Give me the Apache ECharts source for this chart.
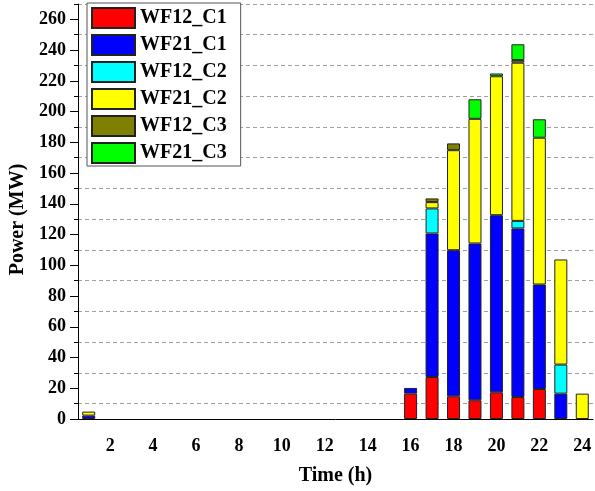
<!DOCTYPE html>
<html>
<head>
<meta charset="utf-8">
<script src="https://cdn.jsdelivr.net/npm/echarts@6/dist/echarts.min.js"></script>
<style>
  html, body { margin: 0; padding: 0; background: #fff; }
  #chart { width: 595px; height: 491px; }
</style>
</head>
<body>
<div id="chart"></div>
<script>
// Hourly dispatched power per wind-farm / contract (MW), hours 1..24
const hours = ['1','2','3','4','5','6','7','8','9','10','11','12','13','14','15','16','17','18','19','20','21','22','23','24'];

const wf12_c1 = [null,null,null,null,null,null,null,null,null,null,null,null,null,null,null,16.5,27.3,14.8,12.2,17.4,14.3,19.5,null,null];
const wf21_c1 = [2.2,null,null,null,null,null,null,null,null,null,null,null,null,null,null,3.7,93.4,95.0,102.0,115.2,109.7,68.0,16.5,null];
const wf12_c2 = [null,null,null,null,null,null,null,null,null,null,null,null,null,null,null,null,16.3,null,null,null,4.9,null,18.9,null];
const wf21_c2 = [2.6,null,null,null,null,null,null,null,null,null,null,null,null,null,null,null,4.1,65.1,81.1,90.4,102.9,95.5,68.4,16.5];
const wf12_c3 = [null,null,null,null,null,null,null,null,null,null,null,null,null,null,null,null,2.4,4.4,null,null,1.7,null,null,null];
const wf21_c3 = [null,null,null,null,null,null,null,null,null,null,null,null,null,null,null,null,null,null,12.7,1.8,10.3,12.0,null,null];

const yMajorTicks = [0,20,40,60,80,100,120,140,160,180,200,220,240,260];

const seriesDefs = [
  { name: 'WF12_C1', data: wf12_c1, color: '#ff0000' },
  { name: 'WF21_C1', data: wf21_c1, color: '#0000ff' },
  { name: 'WF12_C2', data: wf12_c2, color: '#00ffff' },
  { name: 'WF21_C2', data: wf21_c2, color: '#ffff00' },
  { name: 'WF12_C3', data: wf12_c3, color: '#808000' },
  { name: 'WF21_C3', data: wf21_c3, color: '#00ff00' }
];

const font = 'Liberation Serif';
const chart = echarts.init(document.getElementById('chart'), null, { renderer: 'canvas' });

chart.setOption({
  animation: false,
  backgroundColor: '#fff',
  grid: { left: 78, right: 2, top: 4, bottom: 72, containLabel: false },
  legend: {
    orient: 'vertical',
    left: 87,
    top: 3,
    icon: 'rect',
    itemWidth: 43,
    itemHeight: 20,
    itemGap: 5,
    padding: [4, 14, 2, 4],
    backgroundColor: '#fff',
    borderColor: '#555',
    borderWidth: 1,
    textStyle: { fontFamily: font, fontWeight: 'bold', fontSize: 20, lineHeight: 20, color: '#000' },
    data: seriesDefs.map(s => s.name)
  },
  xAxis: [
    {
      type: 'category',
      data: hours,
      position: 'bottom',
      boundaryGap: true,
      name: 'Time (h)',
      nameLocation: 'middle',
      nameGap: 47,
      nameTextStyle: { fontFamily: font, fontWeight: 'bold', fontSize: 20, color: '#000' },
      axisLine: { lineStyle: { color: '#000', width: 1 } },
      axisTick: { alignWithLabel: true, length: 4, lineStyle: { color: '#000' }, interval: 0 },
      axisLabel: {
        interval: (idx) => idx % 2 === 1,
        margin: 18,
        fontFamily: font, fontWeight: 'bold', fontSize: 18, color: '#000'
      },
      splitLine: { show: false }
    },
    {
      type: 'category',
      data: hours,
      position: 'bottom',
      boundaryGap: true,
      axisLine: { show: false },
      axisTick: { alignWithLabel: true, length: 8, lineStyle: { color: '#000' }, interval: (idx) => idx % 2 === 1 },
      axisLabel: { show: false },
      splitLine: { show: false }
    }
  ],
  yAxis: [
    {
      type: 'value',
      min: 0, max: 270, interval: 10,
      position: 'left',
      name: 'Power (MW)',
      nameLocation: 'middle',
      nameGap: 48,
      nameTextStyle: { fontFamily: font, fontWeight: 'bold', fontSize: 20, color: '#000', padding: [0, 16, 0, 0] },
      axisLine: { show: true, lineStyle: { color: '#000', width: 1 } },
      axisTick: { show: true, length: 8, customValues: yMajorTicks, lineStyle: { color: '#000' } },
      axisLabel: {
        customValues: yMajorTicks,
        margin: 12,
        fontFamily: font, fontWeight: 'bold', fontSize: 18, color: '#000'
      },
      splitLine: { show: false }
    },
    {
      type: 'value',
      min: 0, max: 270, interval: 10,
      position: 'left',
      axisLine: { show: false },
      axisTick: { show: true, length: 4, lineStyle: { color: '#000' } },
      axisLabel: { show: false },
      splitLine: {
        show: true,
        lineStyle: { color: ['rgba(0,0,0,0)', '#a0a0a0'], type: [4, 3], width: 1 }
      }
    }
  ],
  series: seriesDefs.map(s => ({
    name: s.name,
    type: 'bar',
    stack: 'power',
    xAxisIndex: 0,
    yAxisIndex: 0,
    barWidth: 13,
    data: s.data,
    itemStyle: { color: s.color, borderColor: '#222', borderWidth: 1 }
  }))
});
</script>
</body>
</html>
